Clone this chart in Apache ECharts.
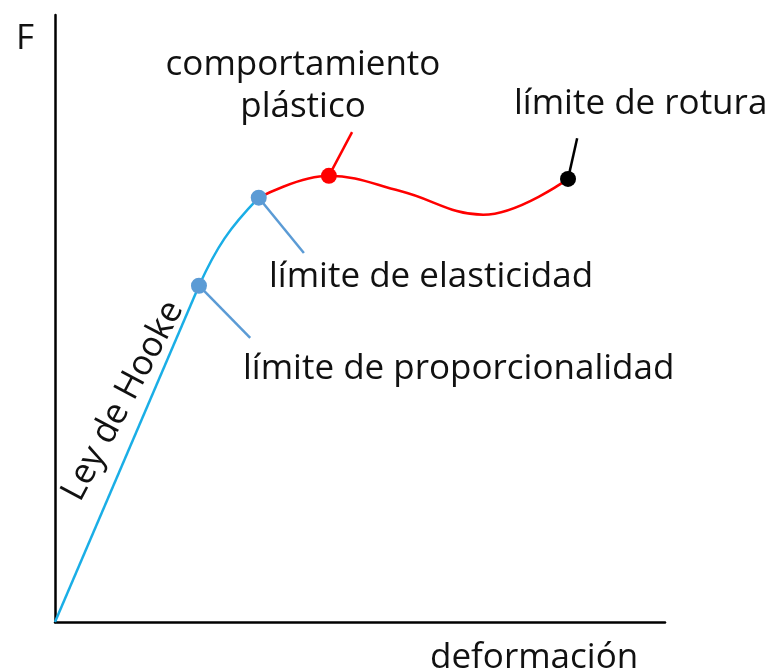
<!DOCTYPE html>
<html>
<head>
<meta charset="utf-8">
<script src="https://cdn.jsdelivr.net/npm/echarts@6/dist/echarts.min.js"></script>
<style>
  html, body { margin: 0; padding: 0; background: #fff; }
  #chart { width: 768px; height: 671px; }
</style>
</head>
<body>
<div id="chart"></div>
<script>
// curve pieces (deformación, F) in arbitrary units 0..100
var hookeLine = [[0, 0], [23.6, 55.4]];
var elasticCurve = [[23.6, 55.4], [27.8, 63.2], [33.4, 69.9]];
var plasticCurve = [[33.4, 69.9], [44.9, 73.5], [56.6, 71.0], [70.2, 67.1], [84.1, 73.0]];

// marked points
var blueDots = [[23.6, 55.4], [33.4, 69.9]];
var redDot = [[44.9, 73.5]];
var blackDot = [[84.1, 73.0]];

// leader lines: point -> label
var leaderProp = [[23.6, 55.4], [32.0, 46.8]];
var leaderElast = [[33.4, 69.9], [40.8, 60.8]];
var leaderPlast = [[44.9, 73.5], [48.7, 80.7]];
var leaderRot = [[84.1, 73.0], [85.6, 79.7]];

var font = '"Open Sans", Lato, sans-serif';

var chart = echarts.init(document.getElementById('chart'));

function leader(data, color) {
  return {
    type: 'line', data: data, symbol: 'none', silent: true,
    lineStyle: { color: color, width: 2.5 }, z: 1
  };
}

function dots(data, color, size) {
  return {
    type: 'scatter', data: data, symbolSize: size, silent: true,
    itemStyle: { color: color, opacity: 1 }, z: 5
  };
}

function label(text, x, y, align) {
  return {
    type: 'text', x: x, y: y,
    style: { text: text, font: '400 35px ' + font, fill: '#111',
      textAlign: align || 'left', textVerticalAlign: 'middle' }
  };
}

var option = {
  animation: false,
  grid: { left: 55, right: 103, top: 15, bottom: 49 },
  xAxis: {
    type: 'value', min: 0, max: 100,
    axisLine: { show: true, lineStyle: { color: '#000', width: 2.5 } },
    axisTick: { show: false }, axisLabel: { show: false }, splitLine: { show: false }
  },
  yAxis: {
    type: 'value', min: 0, max: 100,
    axisLine: { show: true, lineStyle: { color: '#000', width: 2.5 } },
    axisTick: { show: false }, axisLabel: { show: false }, splitLine: { show: false }
  },
  series: [
    {
      type: 'line', data: hookeLine, symbol: 'none', silent: true,
      lineStyle: { color: '#1aaee6', width: 2.5 }, z: 2
    },
    {
      type: 'line', data: elasticCurve, symbol: 'none', smooth: 0.4, silent: true,
      lineStyle: { color: '#1aaee6', width: 2.5 }, z: 2
    },
    {
      type: 'line', data: plasticCurve, symbol: 'none', smooth: 0.4, silent: true,
      lineStyle: { color: '#ff0000', width: 2.5 }, z: 2
    },
    leader(leaderProp, '#5b9bd5'),
    leader(leaderElast, '#5b9bd5'),
    leader(leaderPlast, '#ff0000'),
    leader(leaderRot, '#000'),
    dots(blueDots, '#5b9bd5', 16),
    dots(redDot, '#ff0000', 16),
    dots(blackDot, '#000', 16)
  ],
  graphic: [
    label('F', 16, 39),
    label('comportamiento', 303, 65, 'center'),
    label('plástico', 303, 107, 'center'),
    label('límite de rotura', 514, 104),
    label('límite de elasticidad', 269, 277),
    label('límite de proporcionalidad', 243, 369),
    label('deformación', 430, 658),
    {
      type: 'text', x: 123, y: 401, rotation: 62 * Math.PI / 180,
      style: { text: 'Ley de Hooke', font: '400 35px ' + font, fill: '#111',
        textAlign: 'center', textVerticalAlign: 'middle' }
    }
  ]
};

chart.setOption(option);
</script>
</body>
</html>
